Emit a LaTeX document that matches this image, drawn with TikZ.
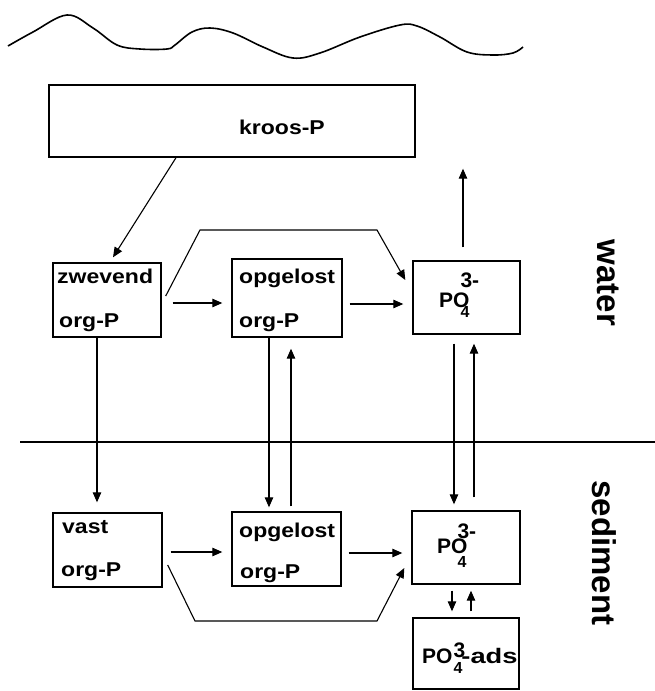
\documentclass[tikz,border=0pt]{standalone}
\usepackage{fontspec}
\setmainfont{Liberation Sans}
\usetikzlibrary{arrows.meta}
\newcommand\lblfont{\fontsize{20}{20}\bfseries\selectfont}
\newcommand\pofont{\fontsize{21}{21}\bfseries\selectfont}
\newcommand\sidefont{\fontsize{33}{33}\bfseries\selectfont}
\newcommand\wide[1]{\scalebox{1.15}[1]{#1}}
\newcommand\subfour{{\fontsize{16}{16}\bfseries\selectfont 4}}
\begin{document}
\begin{tikzpicture}[x=1pt,y=-1pt,
  box/.style={draw, line width=1.4pt, inner sep=0pt},
  lbl/.style={font=\lblfont, inner sep=0pt, anchor=base west},
  polbl/.style={font=\pofont, inner sep=0pt, anchor=base west},
  side/.style={font=\sidefont, inner sep=0pt, rotate=-90},
  ln/.style={line width=1.1pt},
  arr/.style={line width=1.1pt, -{Triangle[length=10pt,width=8.5pt]}}]
\useasboundingbox (0,0) rectangle (655,691);

% water surface
\draw[line width=1.6pt] plot[smooth, tension=0.6] coordinates {
  (8,46) (33,32) (67,15) (93,28) (117,45) (140,49) (167,49) (175,45)
  (192,32) (210,28) (233,33) (263,47) (293,58) (320,53) (360,37)
  (400,25) (417,26) (440,37) (467,52) (493,55) (513,53) (523,47)};

% boxes
\node[box, minimum width=366pt, minimum height=72pt] (kroos) at (232,121) {};
\node[box, minimum width=108pt, minimum height=74pt] (zw) at (107,300) {};
\node[box, minimum width=110pt, minimum height=78pt] (opw) at (287,298) {};
\node[box, minimum width=107pt, minimum height=73pt] (pow) at (466.5,297.5) {};
\node[box, minimum width=109pt, minimum height=74pt] (vast) at (107.5,550) {};
\node[box, minimum width=109pt, minimum height=74pt] (ops) at (286.5,549) {};
\node[box, minimum width=108pt, minimum height=73pt] (pos) at (466,547.5) {};
\node[box, minimum width=106pt, minimum height=71pt] (ads) at (466,653.5) {};

% labels
\node[lbl] (kroosT) at (239,134) {\wide{kroos-P}};
\node[lbl] (zwT1) at (57,283) {\wide{zwevend}};
\node[lbl] (zwT2) at (59,327) {\wide{org-P}};
\node[lbl] (opwT1) at (239,283) {\wide{opgelost}};
\node[lbl] (opwT2) at (239,327) {\wide{org-P}};
\node[lbl] (vastT1) at (62,533) {\wide{vast}};
\node[lbl] (vastT2) at (61,576) {\wide{org-P}};
\node[lbl] (opsT1) at (239,537) {\wide{opgelost}};
\node[lbl] (opsT2) at (240,578) {\wide{org-P}};
\node[polbl] (powT) at (439,307) {PO\kern-9pt\rlap{\raisebox{20pt}{3-}}\raisebox{-10pt}{\subfour}};
\node[polbl] (posT) at (437,553) {PO\kern-10pt\rlap{\raisebox{15pt}{3-}}\raisebox{-14pt}{\subfour}};
\node[polbl] (adsT) at (422,663) {PO\kern1pt\rlap{\raisebox{6pt}{3}}\raisebox{-10pt}{\subfour}\kern-1pt\scalebox{1.3}[1]{-ads}};

\node[side] (waterT) at (608,283) {water};
\node[side] (sedT) at (604,553) {sediment};

% boundary water/sediment
\coordinate (bl) at (20,442);
\coordinate (br) at (655,442);
\draw[ln] (bl) -- (br);

% connectors
\draw[arr] ([xshift=-56pt]kroos.south) -- ([xshift=6pt,yshift=5pt]zw.north);
\draw[arr] ([xshift=11pt,yshift=-3pt]zw.east) -- ([xshift=-9pt,yshift=-5pt]opw.west);
\draw[arr] ([xshift=4pt,yshift=4pt]zw.east) -- (200,230) -- (377,230) -- ([xshift=-7pt,yshift=17.5pt]pow.west);
\draw[arr] ([xshift=7pt,yshift=-6pt]opw.east) -- ([xshift=-9pt,yshift=-6.5pt]pow.west);
\draw[arr] ([xshift=-3.5pt,yshift=13pt]pow.north) -- ([xshift=231pt,yshift=-11pt]kroos.south);
\draw[arr] ([xshift=-10pt]zw.south) -- ([xshift=-10.5pt,yshift=10pt]vast.north);
\draw[arr] ([xshift=-18pt]opw.south) -- ([xshift=-17.5pt,yshift=4pt]ops.north);
\draw[arr] ([xshift=4.5pt,yshift=5pt]ops.north) -- ([xshift=4pt,yshift=-11pt]opw.south);
\draw[arr] ([xshift=-12.5pt,yshift=-9pt]pow.south) -- ([xshift=-12pt,yshift=6pt]pos.north);
\draw[arr] ([xshift=8pt,yshift=13pt]pos.north) -- ([xshift=7.5pt,yshift=-9pt]pow.south);
\draw[arr] ([xshift=8pt,yshift=-2pt]vast.east) -- ([xshift=-9pt,yshift=-3pt]ops.west);
\draw[arr] ([xshift=7pt,yshift=-4pt]ops.east) -- ([xshift=-9pt,yshift=-5.5pt]pos.west);
\draw[arr] ([xshift=5pt,yshift=-15pt]vast.east) -- (195,621) -- (377,621) -- ([xshift=-7pt,yshift=-20.5pt]pos.west);
\draw[arr] ([xshift=-14pt,yshift=-6pt]pos.south) -- ([xshift=-14pt,yshift=6pt]ads.north);
\draw[arr] ([xshift=5pt,yshift=6pt]ads.north) -- ([xshift=5pt,yshift=-6pt]pos.south);
\end{tikzpicture}
\end{document}
